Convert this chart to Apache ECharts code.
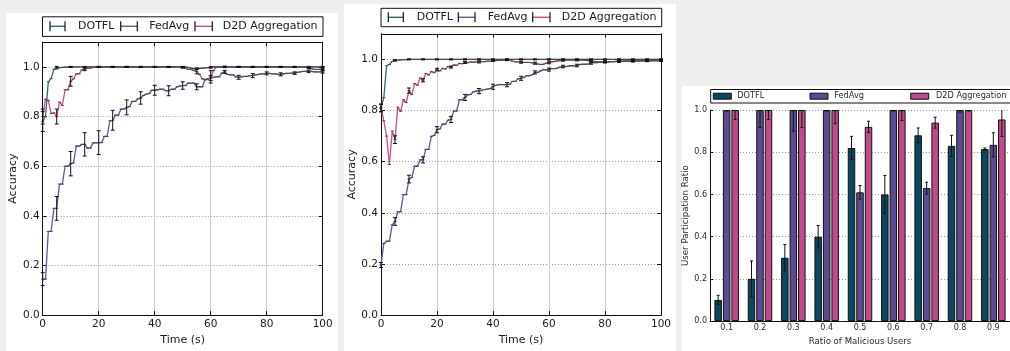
<!DOCTYPE html>
<html><head><meta charset="utf-8">
<script src="https://cdn.jsdelivr.net/npm/echarts@6/dist/echarts.min.js"></script>
<style>html,body{margin:0;padding:0;background:#efefef;}#c{width:1010px;height:351px;}</style>
</head><body><div id="c"></div>
<script>
// ---------------- data ----------------
const SERIES_NAMES = ['DOTFL', 'FedAvg', 'D2D Aggregation'];
const TIMES = Array.from({length: 101}, (_, i) => i);           // seconds 0..100
const ERR_TIMES = [0,5,10,15,20,25,30,35,40,45,50,55,60,65,70,75,80,85,90,95,100];

// Panel 1 (left)
const P1_DOTFL = [
 0.78,0.80,0.94,0.953,0.99,0.997,0.997,0.998,0.999,0.999,
 1,1,1,1,1,1,1,1,1,1,
 1,1,1,1,1,1,1,1,1,1,
 1,1,1,1,1,1,1,1,1,1,
 1,1,1,1,1,1,1,1,1,1,
 1,1,0.998,0.995,0.993,0.993,0.994,0.995,0.996,0.997,
 0.998,1,1,1,1,1,1,1,1,1,
 1,1,1,1,1,1,1,1,1,1,
 1,1,1,1,1,1,1,1,1,1,
 1,1,1,1,1,1,1,1,1,1,
 1];
const P1_FEDAVG = [
 0.145,0.145,0.337,0.337,0.43,0.43,0.528,0.528,0.60,0.60,
 0.61,0.613,0.681,0.681,0.688,0.688,0.673,0.673,0.694,0.694,
 0.695,0.695,0.72,0.72,0.783,0.785,0.806,0.806,0.83,0.83,
 0.837,0.84,0.861,0.861,0.871,0.875,0.885,0.89,0.893,0.906,
 0.906,0.908,0.91,0.91,0.904,0.904,0.91,0.91,0.92,0.923,
 0.925,0.925,0.935,0.935,0.935,0.92,0.92,0.92,0.95,0.952,
 0.955,0.958,0.96,0.96,0.975,0.98,0.97,0.968,0.968,0.96,
 0.958,0.96,0.962,0.962,0.965,0.965,0.968,0.97,0.972,0.972,
 0.974,0.974,0.972,0.972,0.97,0.97,0.972,0.974,0.974,0.975,
 0.975,0.978,0.98,0.982,0.982,0.982,0.982,0.98,0.98,0.98,
 0.98];
const P1_D2D = [
 0.80,0.87,0.865,0.812,0.815,0.80,0.858,0.845,0.908,0.908,
 0.942,0.952,0.972,0.972,0.988,0.99,0.995,0.995,0.998,0.999,
 1,1,1,1,1,1,1,1,1,1,
 1,1,1,1,1,1,1,1,1,1,
 1,1,1,1,1,1,1,1,1,1,
 0.998,0.995,0.99,0.99,0.985,0.982,0.97,0.952,0.948,0.95,
 0.96,0.985,0.998,1,1,1,1,1,1,1,
 1,1,1,1,1,1,1,1,1,1,
 1,1,1,1,1,1,1,1,1,1,
 1,1,1,1,1,0.995,0.993,0.99,0.99,0.99,
 0.99];
const P1_ERR_DOTFL  = [0.04,0.005,0.002,0.002,0.002,0.002,0.002,0.002,0.002,0.002,0.002,0.003,0.003,0.002,0.002,0.002,0.002,0.002,0.002,0.002,0.002];
const P1_ERR_FEDAVG = [0.026,0.048,0.049,0.047,0.048,0.04,0.03,0.025,0.02,0.02,0.015,0.012,0.01,0.006,0.008,0.008,0.006,0.006,0.005,0.005,0.005];
const P1_ERR_D2D    = [0.03,0.03,0.02,0.005,0.002,0.002,0.002,0.002,0.002,0.002,0.003,0.01,0.025,0.003,0.002,0.002,0.002,0.002,0.002,0.002,0.003];

// Panel 2 (middle)
const P2_DOTFL = [
 0.81,0.85,0.975,0.98,0.992,0.996,0.997,0.998,0.999,0.999,
 1,1,1,1,1,1,1,1,1,1,
 1,1,1,1,1,1,1,1,1,1,
 1,1,1,1,1,1,1,1,1,1,
 1,1,1,1,1,1,1,1,1,1,
 1,1,1,1,1,1,1,1,1,1,
 1,1,1,1,1,1,1,1,1,1,
 1,1,1,1,1,1,1,1,1,1,
 1,1,1,1,1,1,1,1,1,1,
 1,1,1,1,1,1,1,1,1,1,
 1];
const P2_FEDAVG = [
 0.196,0.28,0.289,0.289,0.353,0.366,0.404,0.404,0.471,0.471,
 0.532,0.538,0.582,0.582,0.607,0.607,0.648,0.648,0.699,0.703,
 0.725,0.728,0.747,0.747,0.762,0.765,0.798,0.798,0.842,0.842,
 0.851,0.861,0.863,0.873,0.876,0.876,0.88,0.882,0.884,0.886,
 0.893,0.898,0.901,0.901,0.901,0.901,0.903,0.914,0.914,0.924,
 0.926,0.93,0.936,0.936,0.94,0.949,0.949,0.955,0.959,0.959,
 0.96,0.964,0.964,0.966,0.97,0.972,0.972,0.974,0.975,0.975,
 0.976,0.98,0.981,0.981,0.982,0.985,0.987,0.987,0.988,0.989,
 0.99,0.99,0.991,0.991,0.992,0.992,0.993,0.993,0.993,0.994,
 0.994,0.994,0.994,0.995,0.995,0.995,0.995,0.995,0.995,0.995,
 0.995];
const P2_D2D = [
 0.81,0.76,0.70,0.589,0.72,0.686,0.813,0.797,0.842,0.831,
 0.878,0.862,0.905,0.899,0.927,0.918,0.945,0.939,0.952,0.948,
 0.96,0.955,0.965,0.962,0.972,0.97,0.978,0.977,0.984,0.983,
 0.988,0.987,0.99,0.989,0.99,0.99,0.991,0.991,0.993,0.993,
 0.995,0.995,0.996,0.996,0.997,0.998,0.997,0.993,0.99,0.99,
 0.989,0.988,0.988,0.988,0.986,0.985,0.982,0.98,0.981,0.985,
 0.988,0.99,0.992,0.994,0.995,0.996,0.997,0.997,0.997,0.997,
 0.997,0.997,0.997,0.996,0.995,0.993,0.992,0.991,0.99,0.99,
 0.99,0.99,0.991,0.991,0.992,0.992,0.992,0.993,0.993,0.993,
 0.993,0.993,0.994,0.994,0.994,0.994,0.994,0.995,0.995,0.995,
 0.995];
const P2_ERR_DOTFL  = [0.015,0.003,0.002,0.002,0.002,0.002,0.002,0.002,0.002,0.002,0.002,0.002,0.002,0.002,0.002,0.002,0.002,0.002,0.002,0.002,0.002];
const P2_ERR_FEDAVG = [0.01,0.015,0.015,0.012,0.012,0.012,0.012,0.01,0.01,0.008,0.008,0.006,0.006,0.005,0.005,0.004,0.004,0.003,0.003,0.003,0.003];
const P2_ERR_D2D    = [0.015,0.015,0.01,0.006,0.005,0.004,0.004,0.004,0.003,0.003,0.004,0.004,0.005,0.003,0.003,0.003,0.003,0.003,0.003,0.003,0.003];

// Panel 3 (bars)
const RATIOS = ['0.1','0.2','0.3','0.4','0.5','0.6','0.7','0.8','0.9'];
const BAR_DOTFL  = [0.10,0.20,0.30,0.40,0.82,0.60,0.88,0.83,0.815];
const BAR_FEDAVG = [1.0,1.0,1.0,1.0,0.61,1.0,0.63,1.0,0.835];
const BAR_D2D    = [1.0,1.0,1.0,1.0,0.92,1.0,0.94,1.0,0.955];
const BAR_ERR_DOTFL  = [0.022,0.085,0.063,0.053,0.055,0.09,0.035,0.05,0.005];
const BAR_ERR_FEDAVG = [0.005,0.083,0.10,0.005,0.032,0.005,0.028,0.01,0.057];
const BAR_ERR_D2D    = [0.045,0.045,0.083,0.065,0.027,0.05,0.026,0.005,0.08];

// ---------------- style ----------------
const FONT = 'DejaVu Sans';
const LINE_COLORS = ['#2d6878', '#6058a0', '#cc4a92'];
const BAR_COLORS = ['#0c4760', '#5b4c92', '#c04b8c'];
const TXT = '#1a1a1a';
const BAR_W = 7.5, BAR_GAP_PX = 1;

const GRIDS = [
  {left: 42.7, top: 42.1, width: 280, height: 281.2},
  {left: 381, top: 33.8, width: 280, height: 289.5},
  {left: 710, top: 110, width: 300.6, height: 220}
];

function timeX(gi, bottom) {
  return {
    gridIndex: gi, type: 'value', min: 0, max: 100, interval: 20,
    position: bottom ? 'bottom' : 'top',
    axisLine: {show: true, onZero: false, lineStyle: {color: '#111', width: 1}},
    axisTick: {show: true, inside: true, length: 4, lineStyle: {color: '#111'}},
    axisLabel: {show: bottom, margin: 4, color: TXT, fontFamily: FONT, fontSize: 10.5},
    splitLine: {show: bottom, lineStyle: {color: '#cdcdcd', width: 1}},
    name: bottom ? 'Time (s)' : '', nameLocation: 'middle', nameGap: 13,
    nameTextStyle: {color: TXT, fontFamily: FONT, fontSize: 11}
  };
}
function accY(gi, left) {
  return {
    gridIndex: gi, type: 'value', min: 0, max: 1.1, interval: 0.2,
    position: left ? 'left' : 'right',
    axisLine: {show: true, onZero: false, lineStyle: {color: '#111', width: 1}},
    axisTick: {show: true, inside: true, length: 4, lineStyle: {color: '#111'}},
    axisLabel: {show: left, margin: 3, color: TXT, fontFamily: FONT, fontSize: 10.5,
      showMaxLabel: false, formatter: v => v.toFixed(1)},
    splitLine: {show: left, lineStyle: {color: '#999', width: 1, type: [1, 2]}},
    name: left ? 'Accuracy' : '', nameLocation: 'middle', nameGap: 21,
    nameTextStyle: {color: TXT, fontFamily: FONT, fontSize: 11}
  };
}

function lineSeries(name, xi, yi, vals, color) {
  return {
    name, type: 'line', xAxisIndex: xi, yAxisIndex: yi, z: 3,
    data: TIMES.map((t, i) => [t, vals[i]]),
    symbol: 'rect', symbolSize: [3, 1], showSymbol: true,
    itemStyle: {color: '#4a4a4a'},
    lineStyle: {color, width: 1.3}, emphasis: {disabled: true}
  };
}

function errSeries(xi, yi, xs, centers, errs, offset, ymax, cap) {
  return {
    type: 'custom', xAxisIndex: xi, yAxisIndex: yi, z: 6, silent: true,
    data: xs.map((x, i) => [x, centers[i], errs[i]]),
    renderItem: (params, api) => {
      const x = api.value(0), c = api.value(1), e = api.value(2);
      const hi = Math.min(c + e, ymax);
      const p1 = api.coord([x, hi]), p2 = api.coord([x, c - e]);
      const px = p1[0] + offset;
      const st = {stroke: '#111', lineWidth: 1};
      const ch = [{type: 'line', shape: {x1: px, y1: p1[1], x2: px, y2: p2[1]}, style: st}];
      if (c + e <= ymax) ch.push({type: 'line', shape: {x1: px - cap, y1: p1[1], x2: px + cap, y2: p1[1]}, style: st});
      ch.push({type: 'line', shape: {x1: px - cap, y1: p2[1], x2: px + cap, y2: p2[1]}, style: st});
      return {type: 'group', children: ch};
    }
  };
}

function pick(vals, xs) { return xs.map(t => vals[TIMES.indexOf(t)]); }

// legends (decorative, drawn as graphics)
function lineLegend(box, items, cy) {
  const els = [{type: 'rect', shape: box, style: {fill: '#fff', stroke: '#111', lineWidth: 1}, z: 10}];
  items.forEach((it, k) => {
    const st = {stroke: '#111', lineWidth: 1.2};
    els.push({type: 'line', shape: {x1: it.a, y1: cy, x2: it.b, y2: cy}, style: {stroke: LINE_COLORS[k], lineWidth: 1.4}, z: 11});
    els.push({type: 'line', shape: {x1: it.a, y1: cy - 5, x2: it.a, y2: cy + 5}, style: st, z: 11});
    els.push({type: 'line', shape: {x1: it.b, y1: cy - 5, x2: it.b, y2: cy + 5}, style: st, z: 11});
    els.push({type: 'text', x: it.t, y: cy, style: {text: SERIES_NAMES[k], fill: TXT, font: '11px "DejaVu Sans"', verticalAlign: 'middle'}, z: 11});
  });
  return els;
}
function barLegend(box, items, cy) {
  const els = [{type: 'rect', shape: box, style: {fill: '#fff', stroke: '#111', lineWidth: 1}, z: 10}];
  items.forEach((it, k) => {
    els.push({type: 'rect', shape: {x: it.a, y: cy - 3, width: 18, height: 6}, style: {fill: BAR_COLORS[k], stroke: '#111', lineWidth: 1}, z: 11});
    els.push({type: 'text', x: it.t, y: cy, style: {text: SERIES_NAMES[k], fill: '#2a2a2a', font: '8.2px "DejaVu Sans"', verticalAlign: 'middle'}, z: 11});
  });
  return els;
}

const graphics = [
  {type: 'rect', shape: {x: 6, y: 13, width: 332, height: 338}, style: {fill: '#fff'}, z: -10, silent: true},
  {type: 'rect', shape: {x: 344, y: 4, width: 332, height: 347}, style: {fill: '#fff'}, z: -10, silent: true},
  {type: 'rect', shape: {x: 682, y: 86, width: 330, height: 265}, style: {fill: '#fff'}, z: -10, silent: true},
  ...lineLegend({x: 42.5, y: 16.8, width: 280.5, height: 19.6},
    [{a: 50, b: 65, t: 78}, {a: 120.7, b: 137.3, t: 149.3}, {a: 195, b: 212.3, t: 222.7}], 26.3),
  ...lineLegend({x: 381, y: 8.3, width: 280.7, height: 18.4},
    [{a: 388.3, b: 403.3, t: 416.7}, {a: 458.3, b: 475, t: 487.7}, {a: 532.7, b: 550, t: 561.7}], 17.3),
  ...barLegend({x: 710.7, y: 89.5, width: 320, height: 13.5},
    [{a: 713.3, t: 737.3}, {a: 810, t: 834.3}, {a: 910.7, t: 936}], 96.2)
];

const off = BAR_W + BAR_GAP_PX;
const option = {
  animation: false,
  backgroundColor: '#efefef',
  textStyle: {fontFamily: FONT},
  graphic: graphics,
  grid: GRIDS.map(g => Object.assign({containLabel: false}, g)),
  xAxis: [
    timeX(0, true), timeX(0, false), timeX(1, true), timeX(1, false),
    {
      gridIndex: 2, type: 'category', data: RATIOS, boundaryGap: true,
      axisLine: {show: true, lineStyle: {color: '#111', width: 1}},
      axisTick: {show: false},
      axisLabel: {margin: 3, color: '#2a2a2a', fontFamily: FONT, fontSize: 8},
      splitLine: {show: false},
      name: 'Ratio of Malicious Users', nameLocation: 'middle', nameGap: 10,
      nameTextStyle: {color: '#2a2a2a', fontFamily: FONT, fontSize: 8.6}
    }
  ],
  yAxis: [
    accY(0, true), accY(0, false), accY(1, true), accY(1, false),
    {
      gridIndex: 2, type: 'value', min: 0, max: 1.0, interval: 0.2,
      axisLine: {show: true, lineStyle: {color: '#111', width: 1}},
      axisTick: {show: true, inside: true, length: 3, lineStyle: {color: '#111'}},
      axisLabel: {margin: 3, color: '#2a2a2a', fontFamily: FONT, fontSize: 8, formatter: v => v.toFixed(1)},
      splitLine: {show: true, lineStyle: {color: '#999', width: 1, type: [1, 2]}},
      name: 'User Participation Ratio', nameLocation: 'middle', nameGap: 17,
      nameTextStyle: {color: '#2a2a2a', fontFamily: FONT, fontSize: 8.6}
    }
  ],
  series: [
    lineSeries('DOTFL', 0, 0, P1_DOTFL, LINE_COLORS[0]),
    lineSeries('FedAvg', 0, 0, P1_FEDAVG, LINE_COLORS[1]),
    lineSeries('D2D Aggregation', 0, 0, P1_D2D, LINE_COLORS[2]),
    errSeries(0, 0, ERR_TIMES, pick(P1_DOTFL, ERR_TIMES), P1_ERR_DOTFL, 0, 1.1, 2),
    errSeries(0, 0, ERR_TIMES, pick(P1_FEDAVG, ERR_TIMES), P1_ERR_FEDAVG, 0, 1.1, 2),
    errSeries(0, 0, ERR_TIMES, pick(P1_D2D, ERR_TIMES), P1_ERR_D2D, 0, 1.1, 2),

    lineSeries('DOTFL', 2, 2, P2_DOTFL, LINE_COLORS[0]),
    lineSeries('FedAvg', 2, 2, P2_FEDAVG, LINE_COLORS[1]),
    lineSeries('D2D Aggregation', 2, 2, P2_D2D, LINE_COLORS[2]),
    errSeries(2, 2, ERR_TIMES, pick(P2_DOTFL, ERR_TIMES), P2_ERR_DOTFL, 0, 1.1, 2),
    errSeries(2, 2, ERR_TIMES, pick(P2_FEDAVG, ERR_TIMES), P2_ERR_FEDAVG, 0, 1.1, 2),
    errSeries(2, 2, ERR_TIMES, pick(P2_D2D, ERR_TIMES), P2_ERR_D2D, 0, 1.1, 2),

    {name: 'DOTFL', type: 'bar', xAxisIndex: 4, yAxisIndex: 4, data: BAR_DOTFL, barWidth: BAR_W,
      barGap: (BAR_GAP_PX / BAR_W * 100) + '%', itemStyle: {color: BAR_COLORS[0], borderColor: '#111', borderWidth: 1}},
    {name: 'FedAvg', type: 'bar', xAxisIndex: 4, yAxisIndex: 4, data: BAR_FEDAVG, barWidth: BAR_W,
      barGap: (BAR_GAP_PX / BAR_W * 100) + '%', itemStyle: {color: BAR_COLORS[1], borderColor: '#111', borderWidth: 1}},
    {name: 'D2D Aggregation', type: 'bar', xAxisIndex: 4, yAxisIndex: 4, data: BAR_D2D, barWidth: BAR_W,
      barGap: (BAR_GAP_PX / BAR_W * 100) + '%', itemStyle: {color: BAR_COLORS[2], borderColor: '#111', borderWidth: 1}},
    errSeries(4, 4, RATIOS.map((r, i) => i), BAR_DOTFL, BAR_ERR_DOTFL, -off, 1.0, 1.5),
    errSeries(4, 4, RATIOS.map((r, i) => i), BAR_FEDAVG, BAR_ERR_FEDAVG, 0, 1.0, 1.5),
    errSeries(4, 4, RATIOS.map((r, i) => i), BAR_D2D, BAR_ERR_D2D, off, 1.0, 1.5)
  ]
};
const chart = echarts.init(document.getElementById('c'), null, {renderer: 'canvas'});
chart.setOption(option);
</script>
</body></html>
